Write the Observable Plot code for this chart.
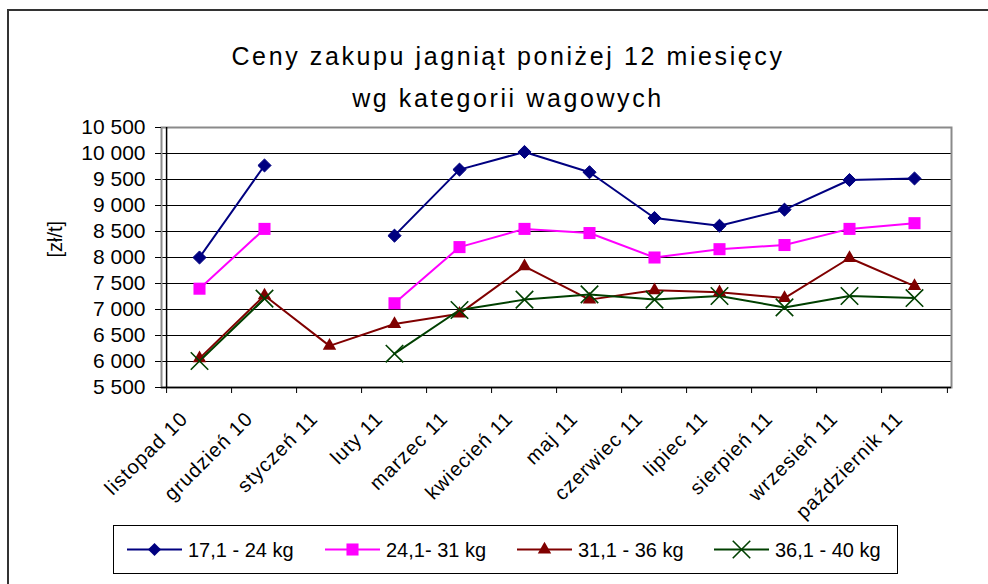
<!DOCTYPE html>
<html><head><meta charset="utf-8">
<script src="https://cdn.jsdelivr.net/npm/d3@7"></script>
<script src="https://cdn.jsdelivr.net/npm/@observablehq/plot@0.6"></script>
<style>
body{margin:0;background:#fff;}
#wrap{position:relative;width:988px;height:584px;overflow:hidden;font-family:"Liberation Sans",Arial,sans-serif;color:#000;}
#border{position:absolute;left:7px;top:9px;width:1000px;height:600px;border-left:2px solid #333;border-top:2px solid #333;}
#title{position:absolute;left:0;top:35px;width:1016px;text-align:center;font-size:25px;line-height:42px;letter-spacing:2.6px;}
#chart{position:absolute;left:0;top:0;}
#legend{position:absolute;left:113px;top:525px;}
</style></head><body>
<div id="wrap">
  <div id="border"></div>
  <div id="chart"></div>
  <div id="title">Ceny zakupu jagniąt poniżej 12 miesięcy<br>wg kategorii wagowych</div>
  <div id="legend"></div>
</div>
<script>
const months = ["listopad 10","grudzień 10","styczeń 11","luty 11","marzec 11","kwiecień 11","maj 11","czerwiec 11","lipiec 11","sierpień 11","wrzesień 11","październik 11"];
const seriesNames = ["17,1 - 24 kg","24,1- 31 kg","31,1 - 36 kg","36,1 - 40 kg"];
const s17 = [8000, 9770, null, 8420, 9690, 10030, 9640, 8760, 8610, 8920, 9490, 9520];
const s24 = [7400, 8550, null, 7120, 8200, 8550, 8470, 8000, 8160, 8240, 8550, 8660];
const s31 = [6060, 7270, 6300, 6720, 6920, 7830, 7190, 7370, 7330, 7220, 7990, 7450];
const s36 = [6010, 7210, null, 6150, 6990, 7190, 7290, 7190, 7260, 7040, 7260, 7220];
const yTicks = [5500, 6000, 6500, 7000, 7500, 8000, 8500, 9000, 9500, 10000, 10500];
const yLabel = "[zł/t]";

const seriesValues = [s17, s24, s31, s36];
const colors = ["#000080", "#ff00ff", "#800000", "#004000"];
const symbols = ["diamond2", "square", "triangle", "times"];
const radii = [5.9, 6.8, 5, 8];

const W = 988, H = 584, mL = 161, mR = 37, mT = 127, mB = 197;
const step = (W - mL - mR) / months.length;
const fmt = d => d3.format(",")(d).replace(/,/g, " ");

const series = seriesNames.map((name, k) => ({
  name, color: colors[k], symbol: symbols[k], r: radii[k],
  rows: months.map((m, i) => ({month: m, value: seriesValues[k][i]}))
}));

const marks = [
  Plot.ruleY(yTicks.slice(1, -1), {stroke: "#000", strokeWidth: 1}),
  Plot.frame({stroke: "#8a8a8a", strokeWidth: 2}),
  Plot.ruleX([months[0]], {dx: -step / 2, stroke: "#000", strokeWidth: 1.5}),
  Plot.ruleY([yTicks[0]], {stroke: "#000", strokeWidth: 1.5}),
  Plot.ruleX(months, {x: d => d, dx: -step / 2, y1: yTicks[0], y2: yTicks[0], insetBottom: -6, stroke: "#000"}),
  Plot.ruleX([months[months.length - 1]], {x: d => d, dx: step / 2, y1: yTicks[0], y2: yTicks[0], insetBottom: -6, stroke: "#000"}),
  Plot.axisY(yTicks, {tickSize: 6, tickPadding: 10, fontSize: 21, tickFormat: fmt, label: null}),
  Plot.text(months, {x: d => d, frameAnchor: "bottom", text: d => d, rotate: -45, textAnchor: "end", lineAnchor: "middle", dy: 28, dx: -15, fontSize: 20}),
  Plot.text([yLabel], {frameAnchor: "left", text: d => d, rotate: -90, dx: -106, fontSize: 20})
];
for (const s of series) {
  marks.push(Plot.line(s.rows, {x: "month", y: "value", stroke: s.color, strokeWidth: 2}));
}
for (const s of series) {
  const opts = {x: "month", y: "value", symbol: () => s.symbol, r: s.r};
  if (s.symbol === "times") Object.assign(opts, {stroke: s.color, strokeWidth: 1.6});
  else if (s.symbol === "diamond2") Object.assign(opts, {fill: s.color, stroke: s.color, strokeWidth: 1});
  else Object.assign(opts, {fill: s.color, stroke: "none"});
  marks.push(Plot.dot(s.rows.filter(d => d.value != null), opts));
}

const chart = Plot.plot({
  width: W, height: H,
  marginLeft: mL, marginRight: mR, marginTop: mT, marginBottom: mB,
  style: {fontFamily: '"Liberation Sans", Arial, sans-serif', fontSize: "20px", background: "transparent", color: "#000"},
  x: {type: "point", domain: months, padding: 0.5, axis: null},
  y: {domain: [yTicks[0], yTicks[yTicks.length - 1]]},
  marks
});
document.getElementById("chart").appendChild(chart);
// slight letter spacing on month labels
const tg = d3.select(chart).selectAll('g[aria-label="text"]').nodes();
if (tg.length) d3.select(tg[0]).attr("letter-spacing", "1px");

// legend
const lw = 784, lh = 48;
const lsvg = d3.select("#legend").append("svg").attr("width", lw + 2).attr("height", lh + 2);
lsvg.append("rect").attr("x", 0.5).attr("y", 0.5).attr("width", lw).attr("height", lh).attr("fill", "#fff").attr("stroke", "#000");
const itemX = [14, 212, 404, 601];
const symMap = {diamond2: d3.symbolDiamond2, square: d3.symbolSquare, triangle: d3.symbolTriangle, times: d3.symbolTimes};
series.forEach((s, k) => {
  const g = lsvg.append("g").attr("transform", `translate(${itemX[k]},${lh / 2 + 0.5})`);
  g.append("line").attr("x1", 0).attr("x2", 55).attr("stroke", s.color).attr("stroke-width", 2);
  const p = g.append("path").attr("transform", "translate(27.5,0)")
    .attr("d", d3.symbol(symMap[s.symbol], Math.PI * s.r * s.r)());
  if (s.symbol === "times") p.attr("fill", "none").attr("stroke", s.color).attr("stroke-width", 1.6);
  else p.attr("fill", s.color);
  g.append("text").attr("x", 61).attr("y", 0).attr("dy", "0.35em").attr("font-size", 20)
    .attr("font-family", '"Liberation Sans", Arial, sans-serif').text(s.name);
});
</script>
</body></html>
